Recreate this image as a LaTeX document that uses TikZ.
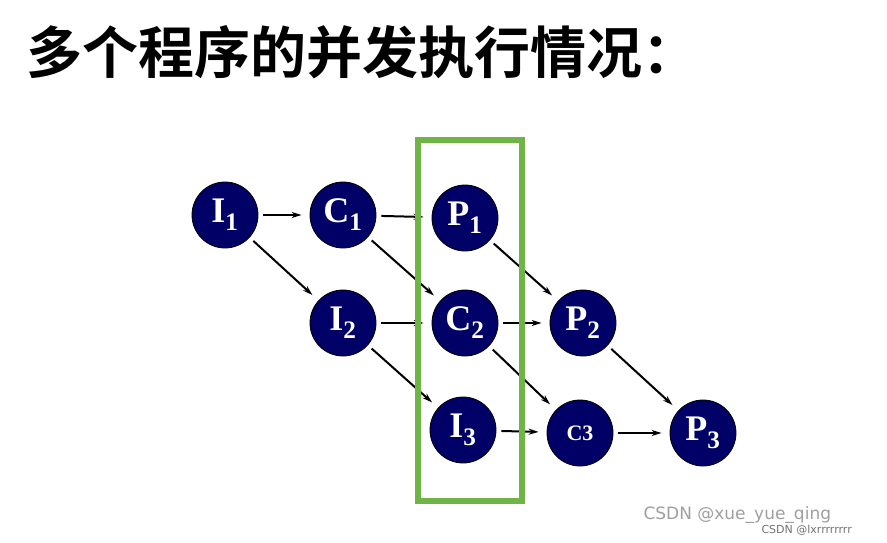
\documentclass[tikz,border=0pt]{standalone}
\usepackage{fontspec}
\setmainfont{Liberation Serif}
\newfontfamily\cjk{Noto Sans CJK SC}[BoldFont={Noto Sans CJK SC Bold}]
\newfontfamily\wm{DejaVu Sans}
\usetikzlibrary{arrows.meta}
\definecolor{navy}{RGB}{0,0,102}
\definecolor{grn}{RGB}{112,180,70}
\begin{document}
\begin{tikzpicture}[x=1pt,y=-1pt,
  pn/.style={circle,fill=navy,draw=black,line width=0.8pt,minimum size=66pt,inner sep=0pt,text=white,font=\bfseries\fontsize{36}{36}\selectfont},
  ar/.style={-{Stealth[length=10pt,width=6pt]},line width=2pt,shorten <=5pt,shorten >=8pt}]
\useasboundingbox (0,0) rectangle (887,543);
\node[anchor=west,inner sep=0pt,font=\cjk\bfseries\fontsize{56}{56}\selectfont] (t) at (26,52) {多个程序的并发执行情况：};
\node[pn] (I1) at (225,215) {I$_{\mathbf 1}$};
\node[pn] (C1) at (343,215) {C$_{\mathbf 1}$};
\node[pn] (P1) at (465,218) {P$_{\mathbf 1}$};
\node[pn] (I2) at (343,323) {I$_{\mathbf 2}$};
\node[pn] (C2) at (465,323) {C$_{\mathbf 2}$};
\node[pn] (P2) at (583,323) {P$_{\mathbf 2}$};
\node[pn] (I3) at (463,430) {I$_{\mathbf 3}$};
\node[pn,font=\bfseries\fontsize{22}{22}\selectfont] (C3) at (580,433) {C3};
\node[pn] (P3) at (703,433) {P$_{\mathbf 3}$};
\draw[ar] (I1) -- (C1);
\draw[ar] (C1) -- (P1);
\draw[ar] (I1) -- (I2);
\draw[ar] (C1) -- (C2);
\draw[ar] (I2) -- (C2);
\draw[ar] (P1) -- (P2);
\draw[ar] (C2) -- (P2);
\draw[ar] (I2) -- (I3);
\draw[ar] (C2) -- (C3);
\draw[ar] (I3) -- (C3);
\draw[ar] (P2) -- (P3);
\draw[ar] (C3) -- (P3);
\draw[grn,line width=6pt] (418,140) rectangle (522,501);
\node[anchor=west,text=gray!75,font=\wm\fontsize{17}{17}\selectfont] (w1) at (640,515) {CSDN @xue\_yue\_qing};
\node[anchor=west,text=gray!90!black,font=\wm\fontsize{11}{11}\selectfont] (w2) at (758,530) {CSDN @lxrrrrrrrr};
\end{tikzpicture}
\end{document}
